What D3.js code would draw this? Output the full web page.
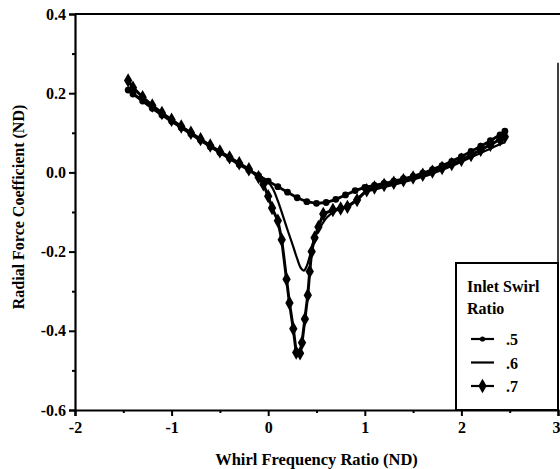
<!DOCTYPE html>
<html>
<head>
<meta charset="utf-8">
<script src="https://cdn.jsdelivr.net/npm/d3@7"></script>
<style>
  body { margin: 0; background: #fff; }
  text { font-family: "Liberation Serif", "DejaVu Serif", serif; font-weight: bold; fill: #000; }
</style>
</head>
<body>
<svg id="chart" width="560" height="469"></svg>
<script>
// tick labels
const xTicks = [-2, -1, 0, 1, 2, 3];
const yTicks = [0.4, 0.2, 0.0, -0.2, -0.4, -0.6];
const xMinor = [-1.5, -0.5, 0.5, 1.5, 2.5];
const yMinor = [0.3, 0.1, -0.1, -0.3, -0.5];

// inlet swirl ratio .5 (small dots)
const x05 = [-1.45, -1.4, -1.3, -1.2, -1.1, -1.0, -0.9, -0.8, -0.7, -0.6, -0.5, -0.4, -0.3, -0.2, -0.1, 0.0,
  0.1, 0.2, 0.3, 0.4, 0.5, 0.6, 0.7, 0.8, 0.9, 1.0, 1.1, 1.2, 1.3, 1.4, 1.5, 1.6, 1.7, 1.8, 1.9, 2.0,
  2.1, 2.2, 2.3, 2.4, 2.45];
const y05 = [0.208, 0.198, 0.180, 0.162, 0.145, 0.129, 0.113, 0.097, 0.081, 0.065, 0.050, 0.035, 0.020, 0.006, -0.008, -0.022,
  -0.036, -0.050, -0.064, -0.074, -0.078, -0.076, -0.068, -0.057, -0.046, -0.038, -0.033, -0.028, -0.022, -0.016, -0.010, -0.002, 0.007, 0.017, 0.028, 0.040,
  0.053, 0.066, 0.080, 0.095, 0.104];

// inlet swirl ratio .6 (plain line)
const x06 = [-1.45, -1.4, -1.3, -1.2, -1.1, -1.0, -0.9, -0.8, -0.7, -0.6, -0.5, -0.4, -0.3, -0.2, -0.1, 0.0,
  0.05, 0.1, 0.15, 0.2, 0.26, 0.3, 0.34, 0.37, 0.4, 0.43, 0.48, 0.54, 0.61, 0.7, 0.8, 0.9, 1.0, 1.1, 1.2, 1.3,
  1.4, 1.5, 1.6, 1.7, 1.8, 1.9, 2.0, 2.1, 2.2, 2.3, 2.4, 2.45];
const y06 = [0.212, 0.200, 0.182, 0.164, 0.147, 0.130, 0.114, 0.098, 0.082, 0.066, 0.051, 0.036, 0.021, 0.007, -0.008, -0.024,
  -0.042, -0.072, -0.108, -0.145, -0.188, -0.218, -0.242, -0.248, -0.236, -0.212, -0.165, -0.138, -0.113, -0.097, -0.087, -0.072, -0.050, -0.043, -0.037, -0.031,
  -0.025, -0.018, -0.011, -0.003, 0.006, 0.016, 0.027, 0.038, 0.049, 0.060, 0.071, 0.076];

// inlet swirl ratio .7 (diamonds)
const x07 = [-1.45, -1.4, -1.3, -1.2, -1.1, -1.0, -0.9, -0.8, -0.7, -0.6, -0.5, -0.4, -0.3, -0.2, -0.1, -0.05,
  0.0, 0.04, 0.1, 0.14, 0.19, 0.22, 0.26, 0.29, 0.33, 0.35, 0.38, 0.41, 0.43, 0.45, 0.48, 0.52, 0.57, 0.67, 0.75, 0.82,
  0.92, 1.02, 1.1, 1.2, 1.3, 1.4, 1.5, 1.6, 1.7, 1.8, 1.9, 2.0, 2.1, 2.2, 2.3, 2.4, 2.45];
const y07 = [0.232, 0.214, 0.190, 0.169, 0.150, 0.133, 0.116, 0.100, 0.084, 0.068, 0.053, 0.038, 0.023, 0.008, -0.012, -0.030,
  -0.060, -0.090, -0.122, -0.170, -0.270, -0.330, -0.395, -0.455, -0.457, -0.430, -0.370, -0.310, -0.250, -0.200, -0.165, -0.138, -0.105, -0.095, -0.091, -0.087,
  -0.070, -0.045, -0.038, -0.032, -0.026, -0.020, -0.013, -0.006, 0.002, 0.011, 0.021, 0.032, 0.044, 0.057, 0.070, 0.083, 0.090];

const legendLabels = [".5", ".6", ".7"];

const svg = d3.select("#chart");
const mLeft = 75, mRight = 558, mTop = 14, mBottom = 410;

const x = d3.scaleLinear().domain([-2, 3]).range([mLeft, mRight]);
const y = d3.scaleLinear().domain([-0.6, 0.4]).range([mBottom, mTop]);

const fmtY = d => d3.format(".1f")(d).replace("\u2212", "-");
const fmtX = d => String(d);

// frame
svg.append("line")
  .attr("x1", mLeft).attr("x2", 560).attr("y1", y(0.4)).attr("y2", y(0.4))
  .attr("stroke", "#000").attr("stroke-width", 2);
svg.append("line")
  .attr("x1", x(3)).attr("x2", x(3)).attr("y1", y(0.277)).attr("y2", mBottom)
  .attr("stroke", "#000").attr("stroke-width", 1.5);

// X axis
const gx = svg.append("g")
  .attr("transform", "translate(0," + mBottom + ")")
  .call(d3.axisBottom(x).tickValues(xTicks).tickFormat(fmtX).tickSize(6).tickPadding(6));
gx.selectAll(".tick text").filter(d => d === 3).attr("text-anchor", "end").attr("x", 2);
svg.append("g")
  .attr("transform", "translate(0," + mBottom + ")")
  .call(d3.axisBottom(x).tickValues(xMinor).tickFormat("").tickSize(3))
  .select(".domain").remove();

// Y axis
svg.append("g")
  .attr("transform", "translate(" + mLeft + ",0)")
  .call(d3.axisLeft(y).tickValues(yTicks).tickFormat(fmtY).tickSize(6).tickPadding(3));
svg.append("g")
  .attr("transform", "translate(" + mLeft + ",0)")
  .call(d3.axisLeft(y).tickValues(yMinor).tickFormat("").tickSize(3))
  .select(".domain").remove();

svg.selectAll(".domain").attr("stroke-width", 2.2);
svg.selectAll(".tick line").attr("stroke-width", 2);
svg.selectAll(".tick text")
  .style("font-family", "'Liberation Serif', serif")
  .style("font-weight", "bold")
  .style("font-size", "16px");

// axis titles
svg.append("text")
  .attr("x", (mLeft + mRight) / 2).attr("y", 465)
  .attr("text-anchor", "middle")
  .style("font-size", "16.5px")
  .text("Whirl Frequency Ratio (ND)");
svg.append("text")
  .attr("transform", "translate(24," + ((mTop + mBottom) / 2 - 5) + ") rotate(-90)")
  .attr("text-anchor", "middle")
  .style("font-size", "16px")
  .text("Radial Force Coefficient (ND)");

// series
const line = d3.line().x(d => x(d[0])).y(d => y(d[1]));
const smooth = d3.line().x(d => x(d[0])).y(d => y(d[1])).curve(d3.curveCatmullRom);
const s05 = x05.map((v, i) => [v, y05[i]]);
const s06 = x06.map((v, i) => [v, y06[i]]);
const s07 = x07.map((v, i) => [v, y07[i]]);

svg.append("path").datum(s05).attr("d", line)
  .attr("fill", "none").attr("stroke", "#000").attr("stroke-width", 2.8);
svg.append("g").selectAll("circle").data(s05).enter().append("circle")
  .attr("cx", d => x(d[0])).attr("cy", d => y(d[1])).attr("r", 3.4).attr("fill", "#000");

svg.append("path").datum(s06).attr("d", smooth)
  .attr("fill", "none").attr("stroke", "#000").attr("stroke-width", 2.2);

const diamond = d3.symbol().type(d3.symbolDiamond).size(60);
svg.append("path").datum(s07).attr("d", line)
  .attr("fill", "none").attr("stroke", "#000").attr("stroke-width", 3);
svg.append("g").selectAll("path").data(s07).enter().append("path")
  .attr("transform", d => "translate(" + x(d[0]) + "," + y(d[1]) + ")")
  .attr("d", diamond).attr("fill", "#000");

// legend
const lg = svg.append("g");
lg.append("rect")
  .attr("x", 456).attr("y", 263).attr("width", x(3) - 456).attr("height", mBottom - 263)
  .attr("fill", "#fff").attr("stroke", "#000").attr("stroke-width", 2);
lg.append("text").attr("x", 467).attr("y", 292).style("font-size", "16px").text("Inlet Swirl");
lg.append("text").attr("x", 467).attr("y", 314).style("font-size", "16px").text("Ratio");
legendLabels.forEach((lab, i) => {
  const ly = 339 + i * 23.5;
  lg.append("line").attr("x1", 471).attr("x2", 494).attr("y1", ly).attr("y2", ly)
    .attr("stroke", "#000").attr("stroke-width", 2.2);
  if (i === 0) lg.append("circle").attr("cx", 482.5).attr("cy", ly).attr("r", 2.6).attr("fill", "#000");
  if (i === 2) lg.append("path").attr("transform", "translate(482.5," + ly + ")")
    .attr("d", diamond).attr("fill", "#000");
  lg.append("text").attr("x", 506).attr("y", ly + 6).style("font-size", "16px").text(lab);
});
</script>
</body>
</html>
